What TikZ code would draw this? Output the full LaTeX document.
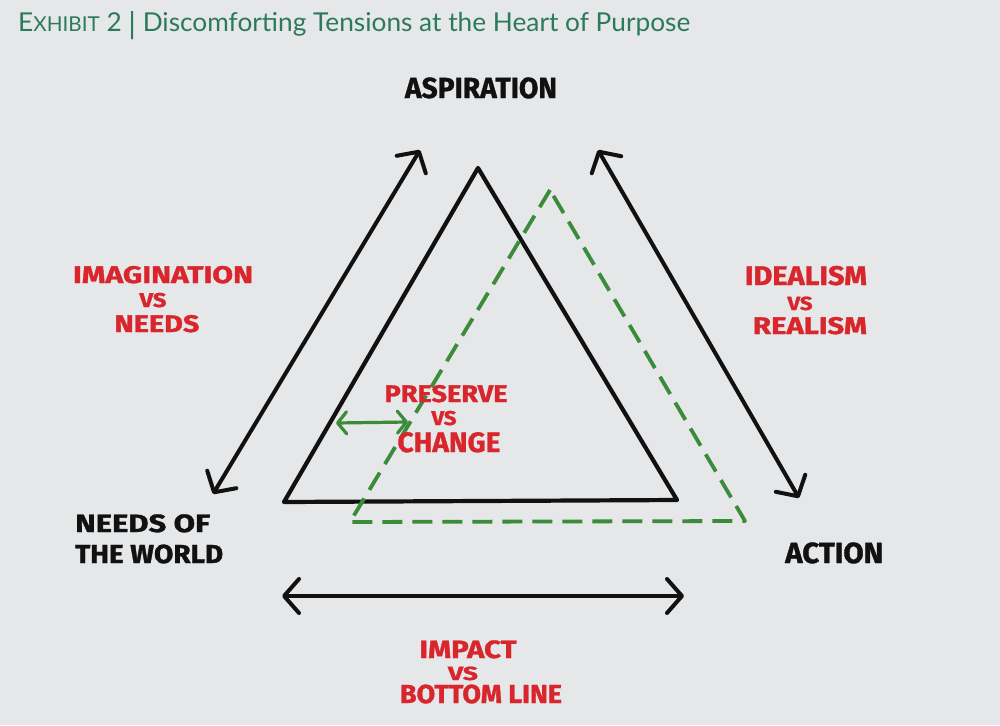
\documentclass[tikz,border=0pt]{standalone}
\usepackage{fontspec}
\usepackage{graphicx}
\usetikzlibrary{arrows.meta}
\setmainfont{Lato}
\newfontfamily\hand[FakeBold=1.2]{Fira Sans}
\definecolor{bg}{HTML}{E6E7E9}
\definecolor{ttl}{HTML}{2B7A5C}
\definecolor{mred}{HTML}{D8262C}
\definecolor{mgreen}{HTML}{3A8C3A}
\definecolor{ink}{HTML}{111111}
\newcommand\hl[3]{\resizebox{#1pt}{\height}{\fontsize{#2}{#2}\selectfont\hand\bfseries #3}}
\tikzset{
  lbl/.style={inner sep=0pt, anchor=base},
  lblw/.style={inner sep=0pt, anchor=base west},
  blk/.style={text=ink},
  rd/.style={text=mred},
  tri/.style={draw=ink, line width=4.2pt, line join=round, line cap=round},
  gtri/.style={draw=mgreen, line width=3.8pt, dash pattern=on 20pt off 10pt, line join=round},
  barrow/.style={draw=ink, line width=4pt, line cap=round,
    {Straight Barb[length=15pt,width=34pt,round]}-{Straight Barb[length=15pt,width=34pt,round]}},
  garrow/.style={draw=mgreen, line width=3.2pt, line cap=round,
    {Straight Barb[length=9pt,width=22pt,round]}-{Straight Barb[length=9pt,width=22pt,round]}}
}
\begin{document}
\begin{tikzpicture}[x=1pt,y=-1pt]
\fill[bg] (0,0) rectangle (1000,725);
\useasboundingbox (0,0) rectangle (1000,725);

% title
\node[inner sep=0pt, anchor=base west, text=ttl] (title) at (18,32)
  {\resizebox{672pt}{\height}{\fontsize{26}{26}\selectfont E{\fontsize{20.5}{20}\selectfont XHIBIT} 2 {\raisebox{-3pt}{\fontsize{30}{30}\selectfont|}} Discomforting Tensions at the Heart of Purpose}};

% triangles
\coordinate (A) at (478,168);
\coordinate (B) at (284,502);
\coordinate (C) at (677,500);
\draw[tri] (A) -- (B) -- (C) -- cycle;

\coordinate (GA) at (550,190);
\coordinate (GB) at (350,522);
\coordinate (GC) at (745,521);
\draw[gtri] (GA) -- (GB) -- (GC) -- cycle;

% arrows
\coordinate (l1) at (420,150);
\coordinate (l2) at (213,494);
\draw[barrow] (l2) -- (l1);
\coordinate (r1) at (598,150);
\coordinate (r2) at (799,498);
\draw[barrow] (r1) -- (r2);
\coordinate (b1) at (282,596);
\coordinate (b2) at (684,596);
\draw[barrow] (b1) -- (b2);
\coordinate (g1) at (336,423);
\coordinate (g2) at (408,422);
\draw[garrow] (g1) -- (g2);

% black labels
\node[lbl,blk] (asp) at (481,98) {\hl{152}{29}{ASPIRATION}};
\node[lblw,blk] (need1) at (75,532) {\hl{135}{25}{NEEDS OF}};
\node[lblw,blk] (need2) at (75,563) {\hl{148}{26}{THE WORLD}};
\node[lblw,blk] (act) at (785,563) {\hl{98}{29}{ACTION}};

% red labels
\node[lbl,rd] (im1) at (163,283) {\hl{180}{24}{IMAGINATION}};
\node[lbl,rd] (im2) at (153,307) {\hl{27}{20}{VS}};
\node[lbl,rd] (im3) at (157,332) {\hl{85}{24}{NEEDS}};

\node[lbl,rd] (id1) at (806,285) {\hl{122}{27}{IDEALISM}};
\node[lbl,rd] (id2) at (800,310) {\hl{25}{19}{VS}};
\node[lbl,rd] (id3) at (810,334) {\hl{114}{24}{REALISM}};

\node[lbl,rd] (pr1) at (446,402) {\hl{123}{24}{PRESERVE}};
\node[lbl,rd] (pr2) at (444,425) {\hl{25}{20}{VS}};
\node[lbl,rd] (pr3) at (449,452) {\hl{103}{28}{CHANGE}};

\node[lbl,rd] (ip1) at (468,658) {\hl{97}{25}{IMPACT}};
\node[lbl,rd] (ip2) at (463,680) {\hl{30}{19}{VS}};
\node[lbl,rd] (ip3) at (481,703) {\hl{162}{26}{BOTTOM LINE}};
\end{tikzpicture}
\end{document}
